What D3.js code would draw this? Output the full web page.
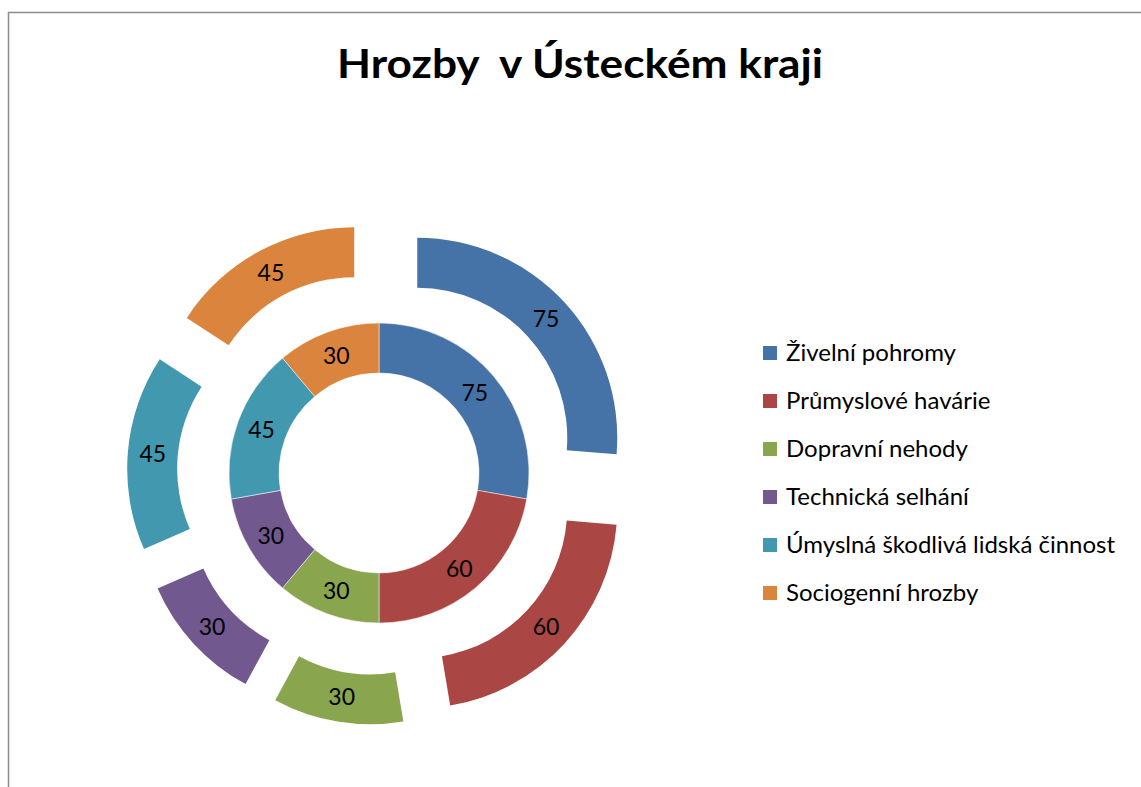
<!DOCTYPE html>
<meta charset="utf-8">
<style>
body { margin: 0; background: #fff; }
text { font-family: Lato, "Open Sans", sans-serif; }
</style>
<body>
<script src="https://d3js.org/d3.v7.min.js"></script>
<script>

// data
var categories = ["Živelní pohromy", "Průmyslové havárie", "Dopravní nehody",
                  "Technická selhání", "Úmyslná škodlivá lidská činnost", "Sociogenní hrozby"];
var innerValues = [75, 60, 30, 30, 45, 30];
var outerValues = [75, 60, 30, 30, 45, 45];
var colors = ["#4572A7", "#AA4643", "#89A54E", "#71588F", "#4198AF", "#DB843D"];

var width = 1141, height = 787;
var cx = 379, cy = 473;
var explode = 52;

var svg = d3.select("body").append("svg")
    .attr("width", width)
    .attr("height", height);

// chart frame
svg.append("path")
    .attr("d", "M8.5," + height + "V12.5H" + width)
    .attr("fill", "none")
    .attr("stroke", "#8c8c8c")
    .attr("stroke-width", 1.5);

// title
svg.append("text")
    .attr("x", 580)
    .attr("y", 78)
    .attr("text-anchor", "middle")
    .attr("font-size", 40)
    .attr("font-weight", "bold")
    .attr("textLength", 486)
    .attr("lengthAdjust", "spacingAndGlyphs")
    .style("white-space", "pre")
    .text("Hrozby  v Ústeckém kraji");

var pie = d3.pie().sort(null).value(function(d) { return d; });

var innerArc = d3.arc().innerRadius(100).outerRadius(150);
var outerArc = d3.arc().innerRadius(150).outerRadius(200);

var g = svg.append("g")
    .attr("transform", "translate(" + cx + "," + cy + ")");

// inner ring
var inner = g.selectAll(".inner")
    .data(pie(innerValues))
    .enter().append("g")
    .attr("class", "inner");

inner.append("path")
    .attr("d", innerArc)
    .attr("fill", function(d, i) { return colors[i]; })
    .attr("stroke", "#fff")
    .attr("stroke-width", 0.5);

inner.append("text")
    .attr("transform", function(d) { return "translate(" + innerArc.centroid(d) + ")"; })
    .attr("dy", "0.35em")
    .attr("text-anchor", "middle")
    .attr("font-size", 23)
    .text(function(d) { return d.data; });

// outer ring, exploded
function shift(d) {
  var a = (d.startAngle + d.endAngle) / 2;
  return [explode * Math.sin(a), -explode * Math.cos(a)];
}

var outer = g.selectAll(".outer")
    .data(pie(outerValues))
    .enter().append("g")
    .attr("class", "outer")
    .attr("transform", function(d) { return "translate(" + shift(d) + ")"; });

outer.append("path")
    .attr("d", outerArc)
    .attr("fill", function(d, i) { return colors[i]; });

outer.append("text")
    .attr("transform", function(d) { return "translate(" + outerArc.centroid(d) + ")"; })
    .attr("dy", "0.35em")
    .attr("text-anchor", "middle")
    .attr("font-size", 23)
    .text(function(d) { return d.data; });

// legend
var legend = svg.append("g")
    .attr("transform", "translate(763,353)");

var item = legend.selectAll("g")
    .data(categories)
    .enter().append("g")
    .attr("transform", function(d, i) { return "translate(0," + i * 48 + ")"; });

item.append("rect")
    .attr("x", 0)
    .attr("y", -7)
    .attr("width", 14)
    .attr("height", 14)
    .attr("fill", function(d, i) { return colors[i]; });

item.append("text")
    .attr("x", 23)
    .attr("dy", "0.35em")
    .attr("font-size", 24)
    .text(function(d) { return d; });

</script>
</body>
